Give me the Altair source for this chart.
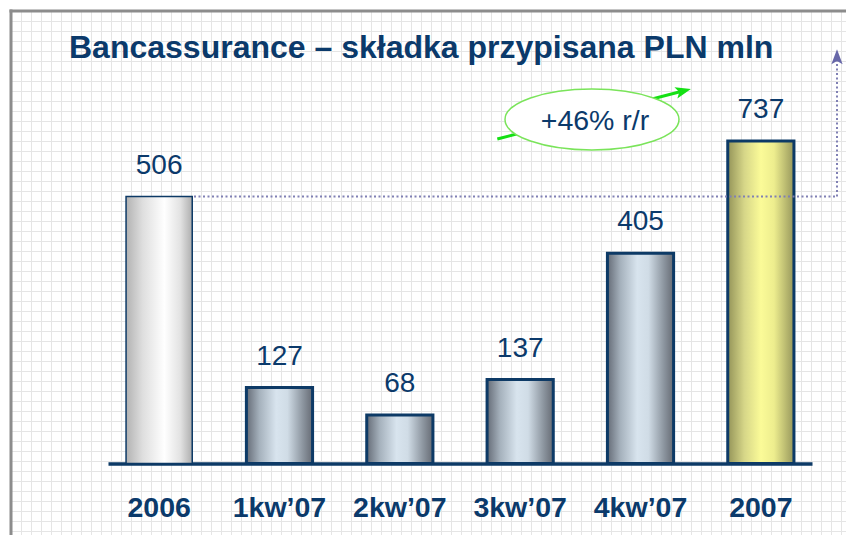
import altair as alt
import pandas as pd

# ---------------- data ----------------
categories = ["2006", "1kw\u201907", "2kw\u201907", "3kw\u201907", "4kw\u201907", "2007"]
values = [506, 127, 68, 137, 405, 737]
kinds = ["prev", "q", "q", "q", "q", "curr"]
title_text = "Bancassurance \u2013 sk\u0142adka przypisana PLN mln"
growth_label = "+46% r/r"
reference_value = 506  # 2006 level, start of the dotted comparison line

df = pd.DataFrame({"cat": categories, "val": values, "kind": kinds})

# ---------------- layout / style ----------------
W, H = 835, 524
NAVY = "#0b3a6b"
LINE_NAVY = "#0d3a66"
FONT = "Liberation Sans"

# the original picture is not drawn to a linear scale: piecewise-linear y scale
y_domain = [0] + sorted(values)
y_range = [452.5, 404, 376.5, 368.5, 242.3, 185.5, 130]
Y_SCALE = alt.Scale(domain=y_domain, range=y_range, nice=False, zero=False)

X_SCALE = alt.Scale(domain=categories, range=[97, 801], paddingInner=0.45, paddingOuter=0.15)
X_AXIS = alt.Axis(title=None, orient="bottom", offset=-(H - 452.5), ticks=False, tickSize=0,
                  labelPadding=30, labelFontSize=28.5, labelFontWeight="bold", labelFont=FONT,
                  labelColor=NAVY, domainColor=LINE_NAVY, domainWidth=3.5, labelAngle=0,
                  grid=False)
X_ENC = alt.X("cat:N", scale=X_SCALE, axis=X_AXIS, sort=categories)
Y_ENC = alt.Y("val:Q", scale=Y_SCALE, axis=None)


def grad(stops):
    return alt.Gradient(gradient="linear", x1=0, x2=1, y1=0, y2=0,
                        stops=[alt.GradientStop(offset=o, color=c) for o, c in stops])


g_prev = grad([(0, "#b2b2b2"), (0.25, "#dedede"), (0.58, "#ffffff"), (0.82, "#e2e2e2"), (1, "#aeaeae")])
g_q = grad([(0, "#656c77"), (0.2, "#a6b2bd"), (0.45, "#d8e4ee"), (0.62, "#d0dce6"), (0.85, "#8d96a0"), (1, "#666b74")])
g_curr = grad([(0, "#949459"), (0.25, "#d6d688"), (0.5, "#fbfb98"), (0.7, "#eded8e"), (1, "#97975c")])

base = alt.Chart(df)


def bars(kind, g, sw):
    return base.transform_filter(alt.datum.kind == kind).mark_bar(
        fill=g, stroke=LINE_NAVY, strokeWidth=sw, opacity=1
    ).encode(x=X_ENC, y=Y_ENC)


bar_prev = bars("prev", g_prev, 1.5)
bar_q = bars("q", g_q, 3)
bar_curr = bars("curr", g_curr, 3)

labels = base.mark_text(dy=-23, baseline="alphabetic", fontSize=28, font=FONT, color=NAVY).encode(
    x=X_ENC, y=Y_ENC, text="val:Q"
)

ann = alt.Chart(pd.DataFrame({"a": [0]}))

DOT = "#8080b4"
dotted_h = ann.mark_rule(color=DOT, strokeWidth=2, strokeDash=[2, 2.5]).encode(
    x=alt.value(183), x2=alt.value(826),
    y=alt.YDatum(reference_value, type="quantitative", scale=Y_SCALE, axis=None),
)
dotted_v = ann.mark_rule(color=DOT, strokeWidth=2, strokeDash=[2, 2.5]).encode(
    x=alt.value(826),
    y=alt.YDatum(reference_value, type="quantitative", scale=Y_SCALE, axis=None),
    y2=alt.value(50),
)

ARROW_PATH = "M 0 -1 L 0.75 1 L 0 0.55 L -0.75 1 Z"
dotted_head = ann.mark_point(shape=ARROW_PATH, size=225, filled=True, color="#6767a8", opacity=1).encode(
    x=alt.value(826), y=alt.value(45.8)
)

GREEN = "#14e014"
green_line = ann.mark_rule(color=GREEN, strokeWidth=3).encode(
    x=alt.value(486.3), y=alt.value(128), x2=alt.value(672), y2=alt.value(80)
)
green_head = ann.mark_point(shape=ARROW_PATH, size=240, filled=True, color=GREEN, angle=75.5, opacity=1).encode(
    x=alt.value(672.4), y=alt.value(79.9)
)

k = 0.35
c1 = round(0.5523 * k, 4)
ELLIPSE_PATH = (f"M -1 0 C -1 -{c1} -0.5523 -{k} 0 -{k} C 0.5523 -{k} 1 -{c1} 1 0 "
                f"C 1 {c1} 0.5523 {k} 0 {k} C -0.5523 {k} -1 {c1} -1 0 Z")
ellipse = ann.mark_point(shape=ELLIPSE_PATH, size=174 * 174, filled=True, fill="white",
                         stroke="#7ae45a", strokeWidth=1.5, opacity=1).encode(
    x=alt.value(581), y=alt.value(108.5)
)
ellipse_text = alt.Chart(pd.DataFrame({"t": [growth_label]})).mark_text(
    align="center", baseline="alphabetic", fontSize=28.5, font=FONT, color=NAVY
).encode(x=alt.value(584), y=alt.value(119), text="t:N")

title = alt.Chart(pd.DataFrame({"t": [title_text]})).mark_text(
    align="left", baseline="alphabetic", fontSize=32, fontWeight="bold", font=FONT, color=NAVY
).encode(x=alt.value(58), y=alt.value(47), text="t:N")

border_left = ann.mark_rule(color="#8c8c8c", strokeWidth=3).encode(
    x=alt.value(0), y=alt.value(-1.5), y2=alt.value(H)
)
border_top = ann.mark_rule(color="#8c8c8c", strokeWidth=3).encode(
    x=alt.value(-1.5), x2=alt.value(W), y=alt.value(0)
)

main = alt.layer(
    bar_prev, bar_q, bar_curr, labels, dotted_h, dotted_v, dotted_head,
    green_line, green_head, ellipse, ellipse_text, title, border_left, border_top
)

GRID = "#e5e5e5"
grid = alt.Chart(pd.DataFrame({"gx": [0, W], "gy": [0, H]})).mark_point(opacity=0).encode(
    x=alt.X("gx:Q", scale=alt.Scale(domain=[0, W], nice=False, zero=False),
            axis=alt.Axis(values=list(range(10, W, 10)), grid=True, gridColor=GRID, gridWidth=1,
                          labels=False, ticks=False, domain=False, title=None)),
    y=alt.Y("gy:Q", scale=alt.Scale(domain=[0, H], nice=False, zero=False),
            axis=alt.Axis(values=[H - p for p in range(10, H, 10)], grid=True, gridColor=GRID,
                          gridWidth=1, labels=False, ticks=False, domain=False, title=None)),
)

chart = alt.layer(grid, main).resolve_scale(x="independent", y="independent").properties(
    width=W, height=H,
    autosize=alt.AutoSizeParams(type="none"),
    padding={"left": 3, "top": 3, "right": 0, "bottom": 0},
).configure_view(stroke="transparent", fill="#f1f1f1").configure(background="white")

chart.save("out.html", embed_options={"renderer": "svg", "actions": False})
